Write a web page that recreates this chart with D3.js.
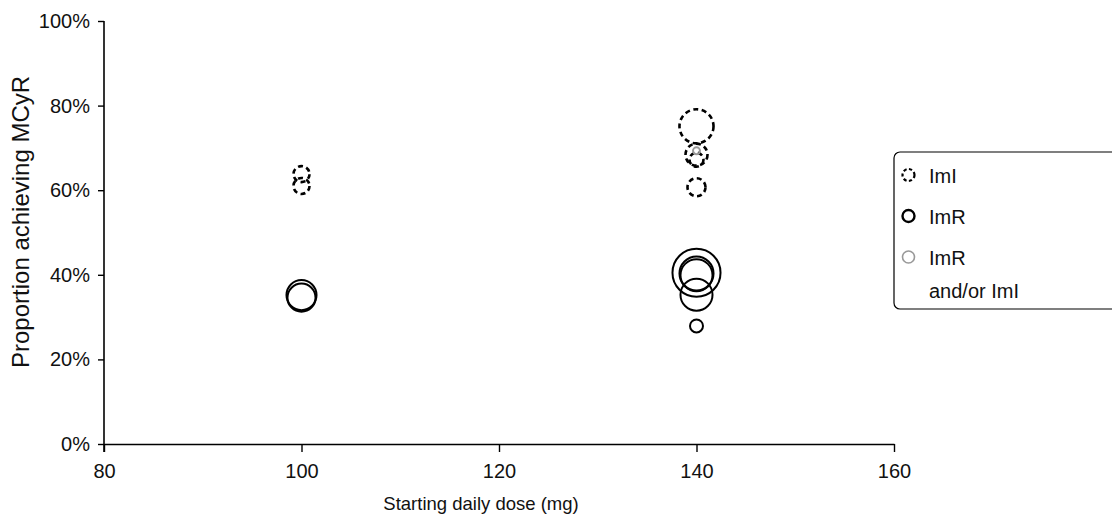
<!DOCTYPE html>
<html>
<head>
<meta charset="utf-8">
<script src="https://cdn.jsdelivr.net/npm/d3@7"></script>
<style>
  html, body { margin: 0; padding: 0; background: #fff; }
  svg { display: block; font-family: "Liberation Sans", Arial, Helvetica, sans-serif; }
</style>
</head>
<body>
<svg id="chart" width="1112" height="518"></svg>
<script>
// Bubble data: starting daily dose (mg), proportion achieving MCyR, patients per study
const imiDose  = [100, 100, 140, 140, 140, 140];
const imiValue = [0.638, 0.610, 0.751, 0.684, 0.672, 0.607];
const imiN     = [79, 79, 357, 149, 60, 100];

const imrDose  = [100, 100, 140, 140, 140, 140, 140];
const imrValue = [0.352, 0.346, 0.405, 0.403, 0.399, 0.353, 0.279];
const imrN     = [278, 242, 711, 357, 316, 316, 52];

const bothDose  = [140];
const bothValue = [0.693];
const bothN     = [15];

const xTicks = [80, 100, 120, 140, 160];
const yTicks = [0, 0.2, 0.4, 0.6, 0.8, 1.0];
const legendLabels = [["ImI"], ["ImR"], ["ImR", "and/or ImI"]];

const svg = d3.select("#chart");
const x = d3.scaleLinear().domain([80, 160]).range([104, 894]);
const y = d3.scaleLinear().domain([0, 1]).range([444, 21]);
const r = d3.scaleSqrt().domain([0, 1000]).range([0, 28.5]);

// Axes
const xAxis = svg.append("g").attr("transform", `translate(0,${y(0)})`)
  .call(d3.axisBottom(x).tickValues(xTicks).tickSize(8).tickPadding(12).tickSizeOuter(0));
const yAxis = svg.append("g").attr("transform", `translate(${x(80)},0)`)
  .call(d3.axisLeft(y).tickValues(yTicks).tickSize(6).tickPadding(8).tickSizeOuter(0)
    .tickFormat(d3.format(".0%")));
[xAxis, yAxis].forEach(g => {
  g.select(".domain").attr("stroke", "#000").attr("stroke-width", 1.6);
  g.selectAll(".tick line").attr("stroke", "#000").attr("stroke-width", 1.4);
  g.selectAll(".tick text").attr("fill", "#111").style("font-size", "20px");
});
yAxis.select(".domain").attr("d", `M0,${y(1)}V${y(0) + 8}`);

// Axis titles
svg.append("text")
  .attr("x", 481).attr("y", 510)
  .attr("text-anchor", "middle")
  .style("font-size", "18.5px").attr("fill", "#111")
  .text("Starting daily dose (mg)");
svg.append("text")
  .attr("transform", "translate(29,368) rotate(-90)")
  .attr("text-anchor", "start")
  .style("font-size", "24px").attr("fill", "#111")
  .text("Proportion achieving MCyR");

// Bubbles
const plot = svg.append("g");
function bubbles(dose, value, n, cls, stroke, width, dash) {
  plot.selectAll("circle." + cls)
    .data(dose.map((d, i) => ({ dose: d, value: value[i], n: n[i] })))
    .join("circle")
    .attr("class", cls)
    .attr("cx", d => x(d.dose))
    .attr("cy", d => y(d.value))
    .attr("r", d => r(d.n))
    .attr("fill", "none")
    .attr("stroke", stroke)
    .attr("stroke-width", width)
    .attr("stroke-dasharray", dash);
}
bubbles(imrDose, imrValue, imrN, "imr", "#000", 2, null);
bubbles(imiDose, imiValue, imiN, "imi", "#000", 2.6, "5,3.5");
bubbles(bothDose, bothValue, bothN, "both", "#999", 2, null);

// Legend
const lg = svg.append("g").attr("transform", "translate(894,152)");
lg.append("rect").attr("x", 0).attr("y", 0).attr("width", 240).attr("height", 157)
  .attr("rx", 6).attr("fill", "#fff").attr("stroke", "#000").attr("stroke-width", 1.2);
const legendStyles = [
  { stroke: "#000", width: 2.2, dash: "3.2,2.4" },
  { stroke: "#000", width: 2.4, dash: null },
  { stroke: "#999", width: 1.6, dash: null }
];
const rowY = [23, 64, 105];
legendLabels.forEach((lines, i) => {
  const s = legendStyles[i];
  lg.append("circle").attr("cx", 14.5).attr("cy", rowY[i]).attr("r", 6)
    .attr("fill", "none").attr("stroke", s.stroke).attr("stroke-width", s.width)
    .attr("stroke-dasharray", s.dash);
  const t = lg.append("text").attr("x", 35).attr("y", rowY[i] + 7.5)
    .style("font-size", "20px").attr("fill", "#111");
  lines.forEach((line, j) => {
    t.append("tspan").attr("x", 35).attr("dy", j === 0 ? 0 : 33).text(line);
  });
});
</script>
</body>
</html>
